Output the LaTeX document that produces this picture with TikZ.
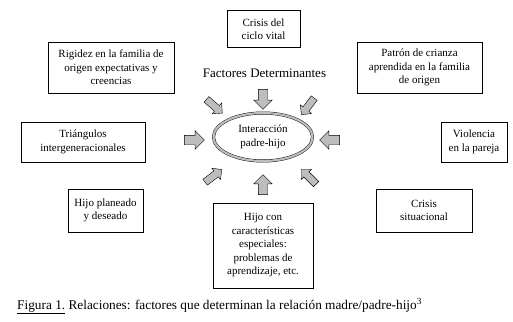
\documentclass[tikz,border=0pt]{standalone}
\usepackage{fontspec}
\setmainfont{Liberation Serif}
\usepackage{xcolor}
\usetikzlibrary{shapes.geometric,shapes.arrows}
\definecolor{arrowgrey}{HTML}{BDBDBD}

\begin{document}
\begin{tikzpicture}[x=1pt, y=-1pt,
  font=\fontsize{11}{13.5}\selectfont,
  box/.style={draw, thin, align=center, inner sep=2pt},
  blk/.style={single arrow, draw, thin, fill=arrowgrey, inner sep=4.5pt,
              minimum width=18pt, minimum height=20pt,
              single arrow head extend=4.5pt},
  blkd/.style={blk, inner sep=3.5pt, minimum width=14pt, minimum height=21pt,
               single arrow head extend=3.5pt}]
\useasboundingbox (0,0) rectangle (513,321);
% factor boxes
\node[box, minimum width=73pt, minimum height=37pt] (ciclo) at (263.5,29) {Crisis del\\ciclo vital};
\node[box, minimum width=126pt, minimum height=51pt] (rigidez) at (111,67.5) {Rigidez en la familia de\\origen expectativas y\\creencias};
\node[box, minimum width=125pt, minimum height=51pt] (patron) at (419.5,67.5) {Patrón de crianza\\aprendida en la familia\\de origen};
\node[box, minimum width=124pt, minimum height=40pt] (triang) at (83,142) {Triángulos\\intergeneracionales};
\node[box, minimum width=66pt, minimum height=40pt] (violencia) at (474,142) {Violencia\\en la pareja};
\node[box, minimum width=75pt, minimum height=43pt] (planeado) at (105.5,210.5) {Hijo planeado\\y deseado};
\node[box, minimum width=100pt, minimum height=85pt] (especial) at (263,245.5) {Hijo con\\características\\especiales:\\problemas de\\aprendizaje, etc.};
\node[box, minimum width=96pt, minimum height=43pt] (situac) at (424,210.5) {Crisis\\situacional};
% centre
\node[font=\fontsize{13}{15}\selectfont] (titulo) at (264.5,73) {Factores Determinantes};
\node[ellipse, draw, double=arrowgrey, double distance=2.2pt, minimum width=99pt,
      minimum height=48pt, align=center] (inter) at (263,137) {Interacción\\padre-hijo};
% arrows towards the centre
\node[blk, rotate=-90] (aN) at (263,97) {};
\node[blk] (aW) at (192,140) {};
\node[blk, rotate=180] (aE) at (332,140) {};
\node[blk, rotate=90] (aS) at (263,187) {};
\node[blkd, rotate=-41] (aNW) at (213,105) {};
\node[blkd, rotate=-127] (aNE) at (309,105) {};
\node[blkd, rotate=37] (aSW) at (212,177) {};
\node[blkd, rotate=135] (aSE) at (310,178) {};
% caption
\node[anchor=west, inner sep=0pt, font=\fontsize{13.3}{15}\selectfont] (pie) at (17,306)
  {\underline{Figura 1.} Relaciones: factores que determinan la relación madre/padre-hijo\textsuperscript{3}};
\end{tikzpicture}
\end{document}
